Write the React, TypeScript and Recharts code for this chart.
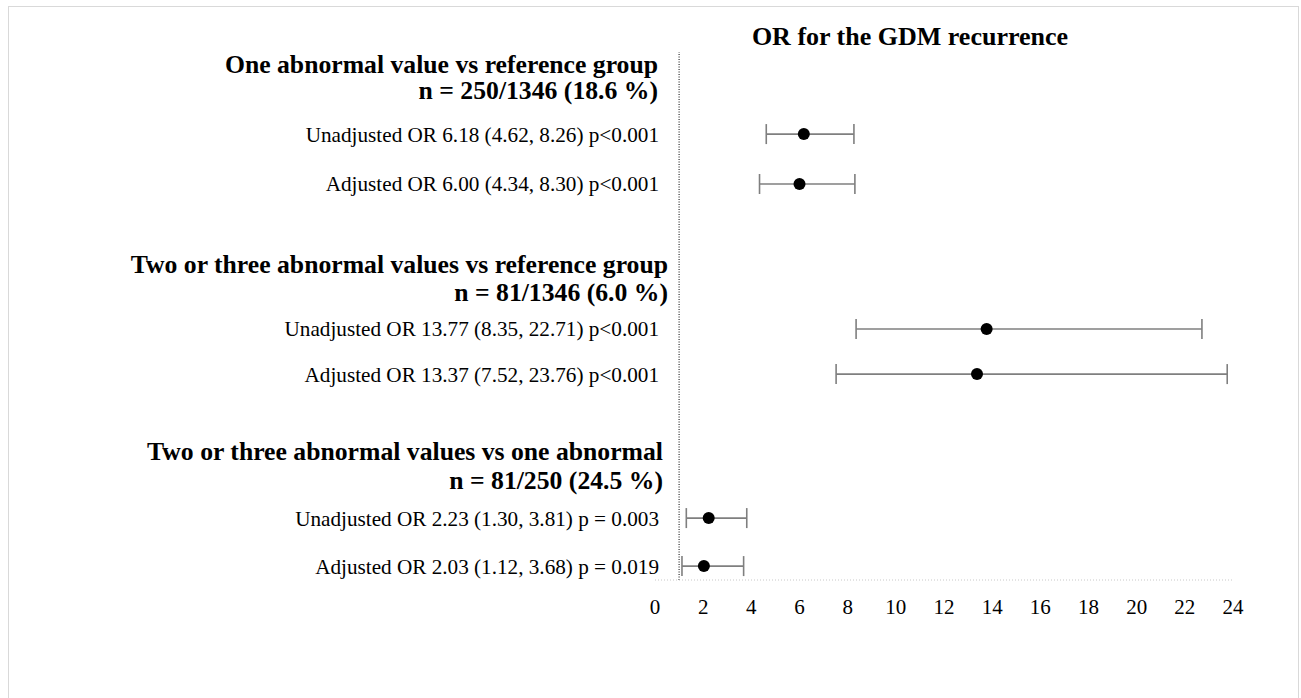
import React from "react";
import { ScatterChart, Scatter, XAxis, YAxis, ErrorBar, ReferenceLine } from "recharts";

// ---- data ----
const chartTitle = "OR for the GDM recurrence";
const groupTitles = [
  "One abnormal value vs reference group",
  "Two or three abnormal values vs reference group",
  "Two or three abnormal values vs one abnormal",
];
const groupCounts = ["n = 250/1346 (18.6 %)", "n = 81/1346 (6.0 %)", "n = 81/250 (24.5 %)"];
const rowLabels = [
  "Unadjusted OR 6.18 (4.62, 8.26) p<0.001",
  "Adjusted OR 6.00 (4.34, 8.30) p<0.001",
  "Unadjusted OR 13.77 (8.35, 22.71) p<0.001",
  "Adjusted OR 13.37 (7.52, 23.76) p<0.001",
  "Unadjusted OR 2.23 (1.30, 3.81) p = 0.003",
  "Adjusted OR 2.03 (1.12, 3.68) p = 0.019",
];
const orValues = [6.18, 6.0, 13.77, 13.37, 2.23, 2.03];
const ciLower = [4.62, 4.34, 8.35, 7.52, 1.3, 1.12];
const ciUpper = [8.26, 8.3, 22.71, 23.76, 3.81, 3.68];
const xTicks = [0, 2, 4, 6, 8, 10, 12, 14, 16, 18, 20, 22, 24];
const referenceOR = 1;

// ---- layout (row slots on the hidden vertical scale) ----
const rowSlots = [1.71, 2.75, 5.77, 6.71, 9.71, 10.71];
const headSlots = [0.24, 4.42, 8.31];
const countSlots = [0.8, 5.0, 8.92];
const headDx = [3, 13, 8];
const FONT = "'Liberation Serif', 'Times New Roman', serif";

const data = orValues.map((v, i) => ({
  or: v,
  pos: rowSlots[i],
  err: [v - ciLower[i], ciUpper[i] - v],
}));

type TickItem = { pos: number; text: string; bold: boolean; dx: number };
const tickItems: TickItem[] = [];
groupTitles.forEach((t, g) => {
  tickItems.push({ pos: headSlots[g], text: t, bold: true, dx: headDx[g] });
  tickItems.push({ pos: countSlots[g], text: groupCounts[g], bold: true, dx: headDx[g] });
});
rowLabels.forEach((t, i) => tickItems.push({ pos: rowSlots[i], text: t, bold: false, dx: 4 }));
tickItems.sort((a, b) => a.pos - b.pos);
const yTicks = tickItems.map((t) => t.pos);

const YTick = (props: any) => {
  const { x, y, payload } = props;
  const item = tickItems.find((t) => Math.abs(t.pos - payload.value) < 1e-6);
  if (!item) return null;
  return (
    <text
      x={x + item.dx}
      y={y}
      dy="0.35em"
      textAnchor="end"
      fontFamily={FONT}
      fontSize={item.bold ? 25.7 : 21.2}
      fontWeight={item.bold ? 700 : 400}
      fill="#000"
    >
      {item.text}
    </text>
  );
};

const Dot = (p: any) => <circle cx={p.cx} cy={p.cy} r={6} fill="#000" />;

export default function App() {
  return (
    <div
      style={{
        position: "absolute",
        left: 8,
        top: 6,
        width: 1291,
        height: 692,
        borderTop: "1px solid #d9d9d9",
        borderLeft: "1px solid #d9d9d9",
        borderRight: "1px solid #d9d9d9",
        boxSizing: "border-box",
        background: "#fff",
        overflow: "hidden",
      }}
    >
      <div
        style={{
          position: "absolute",
          left: 901 - 250,
          top: 15,
          width: 500,
          textAlign: "center",
          fontFamily: FONT,
          fontWeight: 700,
          fontSize: 26,
          lineHeight: "30px",
          color: "#000",
        }}
      >
        {chartTitle}
      </div>
      <ScatterChart width={1289} height={688} margin={{ top: 45, right: 65, bottom: 55, left: 0 }}>
        <XAxis
          type="number"
          dataKey="or"
          domain={[0, 24]}
          ticks={xTicks}
          interval={0}
          height={60}
          tickLine={false}
          tickSize={0}
          tickMargin={19}
          axisLine={{ stroke: "#c8c8c8", strokeDasharray: "1 2" }}
          tick={{ fontFamily: FONT, fontSize: 21, fill: "#000" }}
        />
        <YAxis
          type="number"
          dataKey="pos"
          domain={[0, 11]}
          reversed
          ticks={yTicks}
          interval={0}
          width={646}
          axisLine={false}
          tickLine={false}
          tickSize={0}
          tickMargin={0}
          tick={<YTick />}
        />
        <ReferenceLine x={referenceOR} stroke="#000" strokeDasharray="1 1.5" strokeWidth={1} />
        <Scatter data={data} shape={<Dot />} isAnimationActive={false}>
          <ErrorBar dataKey="err" direction="x" width={10} stroke="#7f7f7f" strokeWidth={1.6} />
        </Scatter>
      </ScatterChart>
    </div>
  );
}
